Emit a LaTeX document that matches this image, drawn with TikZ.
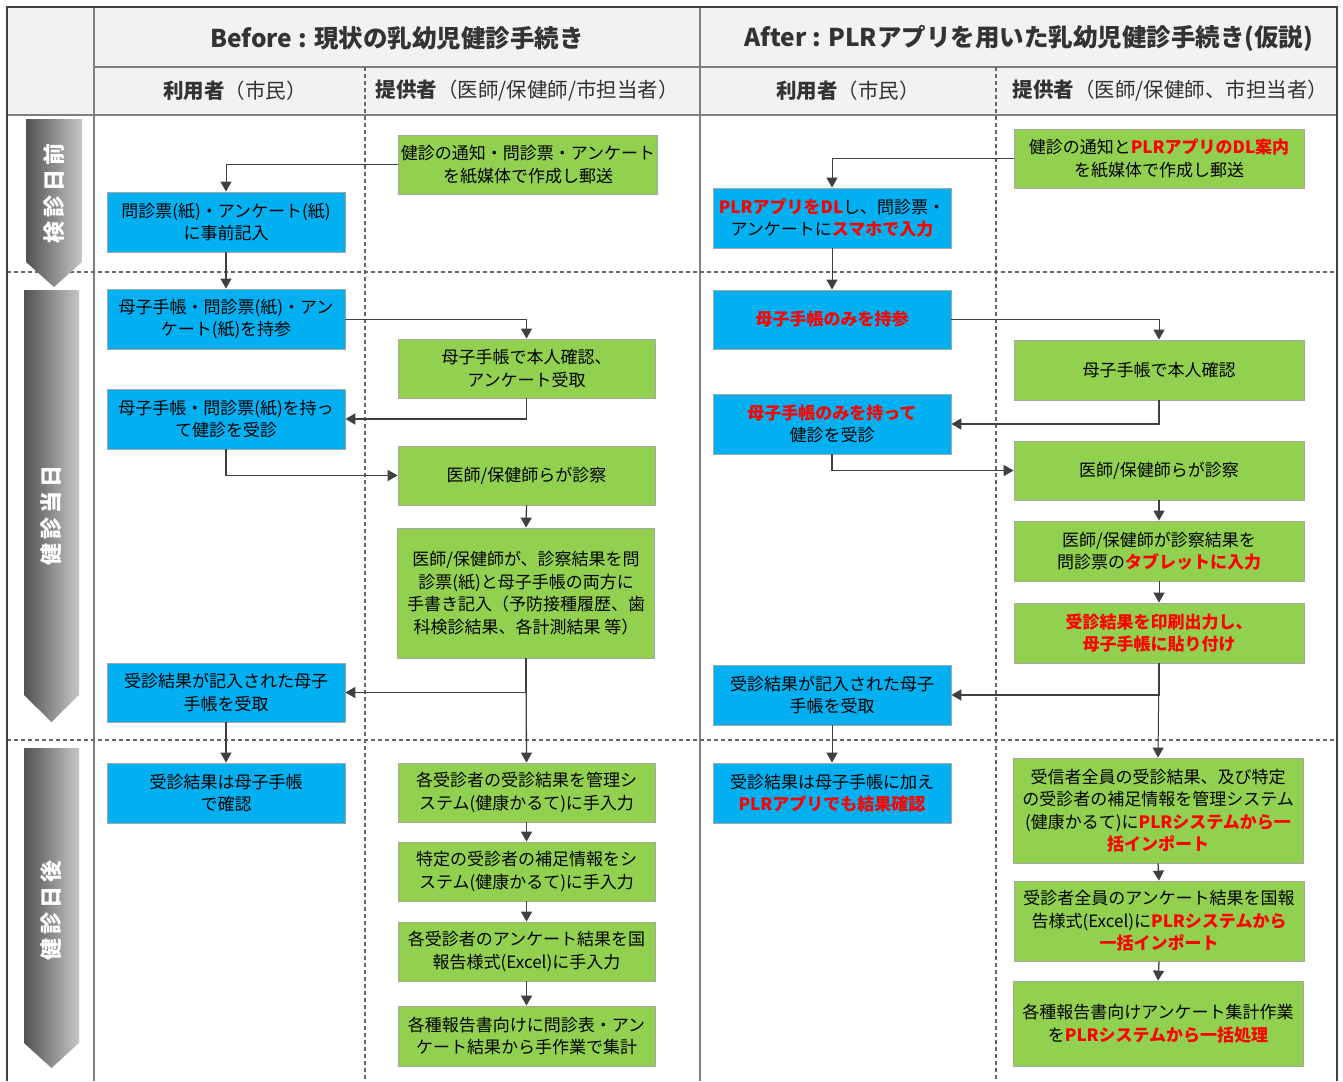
\documentclass[tikz,border=0pt]{standalone}
\usepackage{fontspec}
\setmainfont{Noto Sans CJK JP}
\usetikzlibrary{arrows.meta}
\definecolor{gboxc}{HTML}{92D050}
\definecolor{bboxc}{HTML}{00B0F0}
\definecolor{hdrc}{HTML}{F2F2F2}
\definecolor{lnc}{HTML}{404040}
\definecolor{gridc}{HTML}{7F7F7F}
\definecolor{edgec}{HTML}{A6A6A6}
\definecolor{redc}{HTML}{FF0000}
\newcommand{\rd}[1]{\textcolor{redc}{\textbf{#1}}}
\tikzset{
  basebox/.style={draw=edgec, line width=0.8pt, align=center, inner sep=2pt,
    font=\fontsize{17}{22.5}\selectfont, text=black},
  ubox/.style={basebox, fill=bboxc, minimum width=238pt},
  pbox/.style={basebox, fill=gboxc, minimum width=257pt},
  apbox/.style={basebox, fill=gboxc, minimum width=290pt},
  conn/.style={draw=lnc, line width=1.3pt, -{Triangle[length=10pt,width=11pt]}},
  gridsolid/.style={draw=gridc, line width=1.5pt},
  griddash/.style={draw=lnc!80, line width=1.2pt, dash pattern=on 4pt off 3pt},
  phasetext/.style={rotate=90, text=white, font=\bfseries\fontsize{22}{22}\selectfont},
  hdrtext/.style={text=lnc!80!black},
  subhdr/.style={hdrtext, font=\fontsize{20.5}{20.5}\selectfont},
}
\begin{document}
\begin{tikzpicture}[x=1pt,y=-1pt]
\useasboundingbox (0,0) rectangle (1343,1081);
\fill[white] (0,0) rectangle (1343,1081);
% header background
\fill[hdrc] (7,7) rectangle (1337,115);
% grid
\draw[gridsolid] (94,67) -- (1337,67);
\draw[gridsolid] (7,115) -- (1337,115);
\draw[gridsolid] (94,7) -- (94,1081);
\draw[gridsolid] (700,7) -- (700,1081);
\draw[griddash] (365,67) -- (365,1081);
\draw[griddash] (996,67) -- (996,1081);
\draw[griddash] (7,272) -- (1337,272);
\draw[griddash] (7,740) -- (1337,740);
\draw[draw=lnc, line width=2pt] (7,1081) -- (7,7) -- (1337,7) -- (1337,1081);

% phase arrows
\shade[left color=black!68, right color=black!22] (26,119) -- (82,119) -- (82,262) -- (54,287) -- (26,262) -- cycle;
\shade[left color=black!68, right color=black!22] (24,290) -- (79,290) -- (79,695) -- (51.5,722) -- (24,695) -- cycle;
\shade[left color=black!68, right color=black!22] (24,748) -- (79,748) -- (79,1043) -- (51.5,1068) -- (24,1043) -- cycle;
\node[phasetext] (ph1) at (54,193) {検\hspace{4pt}診\hspace{4pt}日\hspace{4pt}前};
\node[phasetext] (ph2) at (51.5,515) {健\hspace{4pt}診\hspace{4pt}当\hspace{4pt}日};
\node[phasetext] (ph3) at (51.5,910) {健\hspace{4pt}診\hspace{4pt}日\hspace{4pt}後};

% header texts
\node[hdrtext, font=\bfseries\fontsize{24.5}{24.5}\selectfont] (hb) at (397,38) {Before : 現状の乳幼児健診手続き};
\node[hdrtext, font=\bfseries\fontsize{24.5}{24.5}\selectfont] (ha) at (1029,38) {After : PLRアプリを用いた乳幼児健診手続き(仮説)};
\node[subhdr] (hbu) at (235,91) {\textbf{利用者}（市民）};
\node[subhdr, anchor=west] (hbp) at (372,91) {\textbf{提供者}（医師/保健師/市担当者）};
\node[subhdr] (hau) at (848,91) {\textbf{利用者}（市民）};
\node[subhdr, anchor=west] (hap) at (1009,91) {\textbf{提供者}（医師/保健師、市担当者）};

% ---------------- Before ----------------
\node[pbox, minimum height=59pt] (g1) at (528,164.5) {健診の通知・問診票・アンケート\\を紙媒体で作成し郵送};
\node[ubox, minimum height=60pt] (b1) at (226,222) {問診票(紙)・アンケート(紙)\\に事前記入};
\node[ubox, minimum height=60pt] (b2) at (226,319) {母子手帳・問診票(紙)・アン\\ケート(紙)を持参};
\node[pbox, minimum height=59pt] (g2) at (526.5,368.5) {母子手帳で本人確認、\\アンケート受取};
\node[ubox, minimum height=60pt] (b3) at (226,419) {母子手帳・問診票(紙)を持っ\\て健診を受診};
\node[pbox, minimum height=59pt] (g3) at (526.5,475.5) {医師/保健師らが診察};
\node[pbox, minimum height=130pt] (g4) at (526,593) {医師/保健師が、診察結果を問\\診票(紙)と母子手帳の両方に\\手書き記入（予防接種履歴、歯\\科検診結果、各計測結果 等）};
\node[ubox, minimum height=59pt] (b4) at (226,692.5) {受診結果が記入された母子\\手帳を受取};
\node[ubox, minimum height=60pt] (b5) at (226,793) {受診結果は母子手帳\\で確認};
\node[pbox, minimum height=59pt] (g5) at (526.5,792.5) {各受診者の受診結果を管理シ\\ステム(健康かるて)に手入力};
\node[pbox, minimum height=59pt] (g6) at (526.5,871.5) {特定の受診者の補足情報をシ\\ステム(健康かるて)に手入力};
\node[pbox, minimum height=59pt] (g7) at (526.5,951.5) {各受診者のアンケート結果を国\\報告様式(Excel)に手入力};
\node[pbox, minimum height=60pt] (g8) at (526.5,1036) {各種報告書向けに問診表・アン\\ケート結果から手作業で集計};

\draw[conn, line width=1pt] (g1.west) -| (b1.north);
\draw[conn] (b1.south) -- (b2.north);
\draw[conn, line width=1pt] (b2.east) -| (g2.north);
\draw[conn, line width=1.8pt] (g2.south) |- (b3.east);
\draw[conn, line width=1.8pt] (b3.south) |- (g3.west);
\draw[conn] (g3.south) -- (g4.north);
\draw[conn] (g4.south) |- (b4.east);
\draw[conn] (g4.south) -- (g5.north);
\draw[conn] (b4.south) -- (b5.north);
\draw[conn] (g5.south) -- (g6.north);
\draw[conn] (g6.south) -- (g7.north);
\draw[conn] (g7.south) -- (g8.north);

% ---------------- After ----------------
\node[apbox, minimum height=59pt] (ag1) at (1159,158.5) {健診の通知と\rd{PLRアプリのDL案内}\\を紙媒体で作成し郵送};
\node[ubox, minimum height=60pt] (ab1) at (832,218) {\rd{PLRアプリをDL}し、問診票・\\アンケートに\rd{スマホで入力}};
\node[ubox, minimum height=59pt] (ab2) at (832,319.5) {\rd{母子手帳のみを持参}};
\node[apbox, minimum height=60pt] (ag2) at (1159,370) {母子手帳で本人確認};
\node[ubox, minimum height=60pt] (ab3) at (832,424) {\rd{母子手帳のみを持って}\\健診を受診};
\node[apbox, minimum height=59pt] (ag3) at (1159,470.5) {医師/保健師らが診察};
\node[apbox, minimum height=60pt] (ag4) at (1159,551) {医師/保健師が診察結果を\\問診票の\rd{タブレットに入力}};
\node[apbox, minimum height=60pt] (ag5) at (1159,633) {\rd{受診結果を印刷出力し、}\\\rd{母子手帳に貼り付け}};
\node[ubox, minimum height=60pt] (ab4) at (832,695) {受診結果が記入された母子\\手帳を受取};
\node[ubox, minimum height=60pt] (ab5) at (832,793) {受診結果は母子手帳に加え\\\rd{PLRアプリでも結果確認}};
\node[apbox, minimum height=105pt] (ag6) at (1158,810.5) {受信者全員の受診結果、及び特定\\の受診者の補足情報を管理システム\\(健康かるて)に\rd{PLRシステムから一}\\\rd{括インポート}};
\node[apbox, minimum height=80pt] (ag7) at (1159,921) {受診者全員のアンケート結果を国報\\告様式(Excel)に\rd{PLRシステムから}\\\rd{一括インポート}};
\node[apbox, minimum height=85pt] (ag8) at (1158,1023.5) {各種報告書向けアンケート集計作業\\を\rd{PLRシステムから一括処理}};

\draw[conn, line width=1pt] (ag1.west) -| (ab1.north);
\draw[conn, line width=1pt] (ab1.south) -- (ab2.north);
\draw[conn, line width=1pt] (ab2.east) -| (ag2.north);
\draw[conn, line width=1.8pt] (ag2.south) |- (ab3.east);
\draw[conn, line width=1.8pt] (ab3.south) |- (ag3.west);
\draw[conn] (ag3.south) -- (ag4.north);
\draw[conn, line width=1pt] (ag4.south) -- (ag5.north);
\draw[conn, line width=1.8pt] (ag5.south) |- (ab4.east);
\draw[conn, line width=1pt] (ag5.south) -- (ag6.north);
\draw[conn, line width=1pt] (ab4.south) -- (ab5.north);
\draw[conn] (ag6.south) -- (ag7.north);
\draw[conn] (ag7.south) -- (ag8.north);
\end{tikzpicture}
\end{document}
